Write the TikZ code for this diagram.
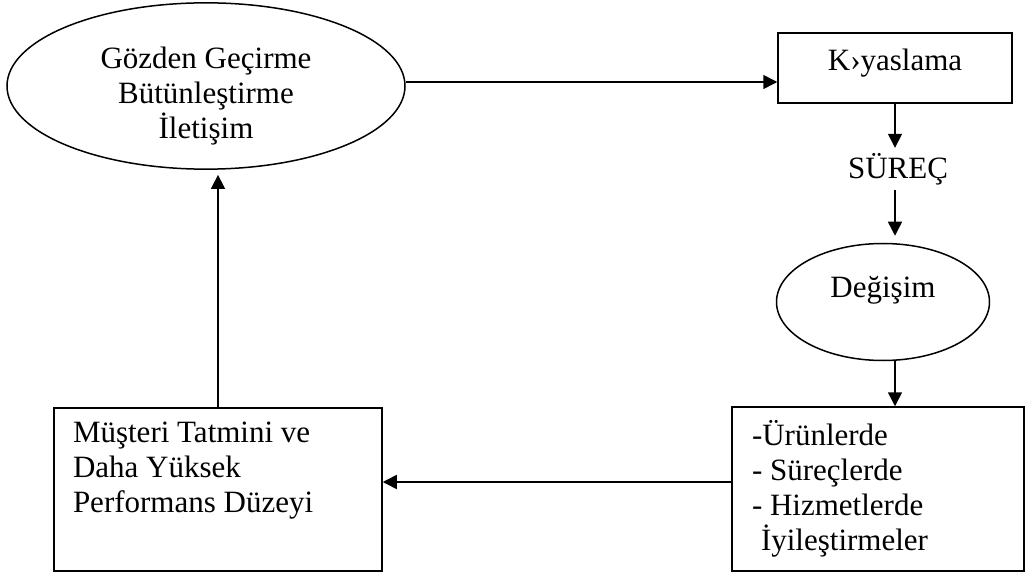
\documentclass[tikz,border=0pt]{standalone}
\usepackage{fontspec}
\setmainfont{Liberation Serif}
\usetikzlibrary{arrows.meta,shapes.geometric}

\begin{document}
\begin{tikzpicture}[x=1pt,y=-1pt,
	txt/.style={font=\fontsize{31}{35}\selectfont},
	box/.style={txt,draw,line width=1.5pt,rectangle},
	oval/.style={txt,draw,line width=1.5pt,ellipse,inner sep=0pt,align=center},
	arr/.style={line width=1.5pt,-{Triangle[length=14pt,width=14pt]}}]
		\useasboundingbox (0,0) rectangle (1026,572);
		\node[oval,minimum width=398,minimum height=162] (review) at (206,86) {\rule{0pt}{41pt}Gözden Geçirme\\Bütünleştirme\\İletişim};  % top left
		\node[box,minimum width=234,minimum height=70,text depth=17pt] (bench) at (895,68) {K›yaslama};  % top right
		\node[txt,minimum height=42,inner sep=0pt] (process) at (898,169) {SÜREÇ};
		\node[oval,minimum width=213,minimum height=117] (change) at (883,302) {\rule{0pt}{36pt}Değişim\\ \strut};
		\node[box,minimum width=292,minimum height=164,inner xsep=20pt,text width=252pt,align=flush left] (gains) at (878,489) {-Ürünlerde\\- Süreçlerde\\- Hizmetlerde\\\hspace*{9pt}İyileştirmeler};  % bottom right
		\node[box,minimum width=328,minimum height=163,inner xsep=19pt,text width=290pt,align=flush left] (result) at (218,489.5) {Müşteri Tatmini ve\\Daha Yüksek\\Performans Düzeyi\\ \strut};  % bottom left
		\draw[arr] ([yshift=4pt]review.east) -- ([yshift=4pt]review.east -| bench.west);
		\draw[arr] (bench.south) -- (bench.south |- process.north);
		\draw[arr] (process.south -| bench.south) -- ([yshift=7pt]bench.south |- change.north);
		\draw[arr] (change.south -| bench.south) -- (gains.north -| bench.south);
		\draw[arr] ([yshift=7pt]gains.west) -- ([yshift=7pt]gains.west -| result.east);
		\draw[arr] (result.north) -- ([yshift=-5pt]result.north |- review.south);
	\end{tikzpicture}
\end{document}
